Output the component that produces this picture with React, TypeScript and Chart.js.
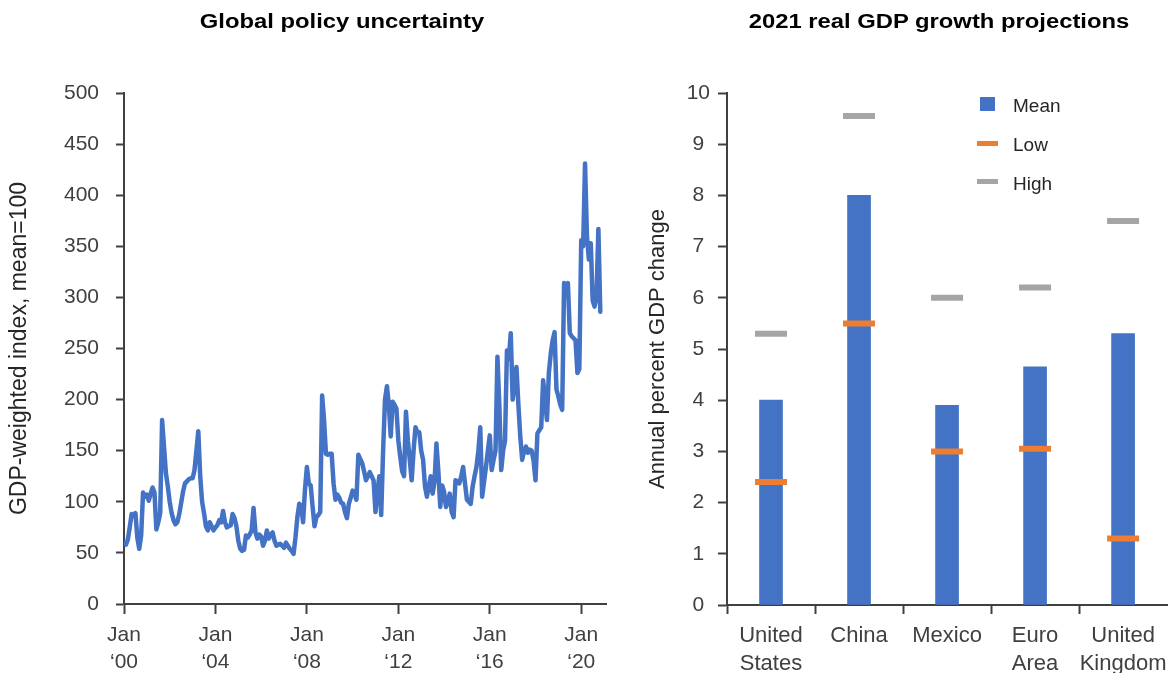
import React, { useEffect, useRef } from "react";
import { Chart, registerables } from "chart.js";

Chart.register(...registerables);

// ---------------- data ----------------
// Global economic policy uncertainty, monthly from Jan 2000 (index 0) to Nov 2020
const epuStartLabel = "Jan 2000";
const epuIndex = [
  // 2000
  60, 58, 63, 75, 88, 86, 89, 65, 54, 67, 109, 105,
  // 2001
  107, 101, 108, 114, 109, 73, 80, 89, 180, 154, 128, 115,
  // 2002
  100, 89, 82, 78, 80, 88, 99, 110, 118, 120, 122, 123,
  // 2003
  123, 131, 150, 169, 125, 100, 89, 76, 72, 80, 76, 72,
  // 2004
  75, 77, 82, 80, 91, 80, 75, 76, 77, 88, 84, 76,
  // 2005
  62, 54, 52, 53, 67, 65, 68, 72, 94, 70, 64, 68,
  // 2006
  66, 57, 62, 72, 64, 68, 70, 62, 57, 58, 59, 57,
  // 2007
  55, 60, 57, 54, 52, 49, 65, 85, 98, 96, 80, 112,
  // 2008
  134, 118, 116, 95, 76, 85, 87, 90, 204, 180, 147, 146,
  // 2009
  147, 147, 118, 102, 107, 104, 99, 98, 90, 84, 98, 104,
  // 2010
  111, 108, 102, 146, 142, 138, 130, 121, 125, 129, 125, 121,
  // 2011
  90, 110, 125, 87, 150, 200, 213, 195, 164, 198, 195, 191,
  // 2012
  160, 144, 130, 125, 188, 160, 141, 121, 150, 173, 168, 168,
  // 2013
  150, 141, 115, 105, 115, 125, 108, 120, 157, 130, 95, 116,
  // 2014
  110, 95, 100, 108, 90, 85, 121, 120, 118, 125, 134, 118,
  // 2015
  102, 100, 98, 115, 125, 134, 150, 173, 105, 120, 134, 150,
  // 2016
  165, 131, 141, 150, 242, 195, 131, 150, 160, 248, 240, 265,
  // 2017
  200, 215, 232, 195, 164, 141, 150, 154, 148, 151, 150, 140,
  // 2018
  121, 167, 170, 173, 219, 200, 180, 226, 245, 258, 266, 210,
  // 2019
  203, 195, 190, 314, 312, 314, 265, 262, 260, 258, 226, 230,
  // 2020 (Jan - Nov)
  356, 350, 431, 360, 337, 353, 297, 291, 300, 367, 286,
];
const epuTickMonths = [0, 48, 96, 144, 192, 240];
const epuTickLabels = [
  ["Jan", "\u201800"],
  ["Jan", "\u201804"],
  ["Jan", "\u201808"],
  ["Jan", "\u201812"],
  ["Jan", "\u201816"],
  ["Jan", "\u201820"],
];
const epuAxisMaxMonth = 253;

// 2021 real GDP growth projections
const countries = [
  ["United", "States"],
  "China",
  "Mexico",
  ["Euro", "Area"],
  ["United", "Kingdom"],
];
const meanGrowth = [4.0, 8.0, 3.9, 4.65, 5.3];
const lowGrowth = [2.4, 5.5, 3.0, 3.05, 1.3];
const highGrowth = [5.3, 9.55, 6.0, 6.2, 7.5];

// ---------------- styles ----------------
const FONT = "'Liberation Sans', Arial, Helvetica, sans-serif";
const AXIS = "#404040";
const TEXT = "#262626";
const BLUE = "#4472C4";
const ORANGE = "#ED7D31";
const GRAY = "#A5A5A5";

Chart.defaults.font.family = FONT;

export default function App() {
  const leftRef = useRef<HTMLCanvasElement | null>(null);
  const rightRef = useRef<HTMLCanvasElement | null>(null);

  useEffect(() => {
    if (!leftRef.current || !rightRef.current) return;

    const left = new Chart(leftRef.current, {
      type: "line",
      data: {
        datasets: [
          {
            label: "Global policy uncertainty",
            data: epuIndex.map((v, i) => ({ x: i, y: v })),
            borderColor: BLUE,
            backgroundColor: BLUE,
            borderWidth: 4.5,
            pointRadius: 0,
            tension: 0,
            borderJoinStyle: "round",
            borderCapStyle: "round",
          },
        ],
      },
      options: {
        animation: false,
        responsive: false,
        layout: { autoPadding: false, padding: { top: 93, right: 14, bottom: 0, left: 0 } },
        plugins: {
          legend: { display: false },
          tooltip: { enabled: false },
          title: { display: false },
        },
        scales: {
          x: {
            type: "linear",
            min: 0,
            max: epuAxisMaxMonth,
            afterBuildTicks: (s: any) => {
              s.ticks = epuTickMonths.map((v) => ({ value: v }));
            },
            afterFit: (s: any) => {
              s.height = 673 - 604;
            },
            grid: {
              drawOnChartArea: false,
              drawTicks: true,
              tickLength: 10,
              tickWidth: 2,
              tickColor: AXIS,
            },
            border: { display: true, color: AXIS, width: 2 },
            ticks: {
              color: AXIS,
              font: { size: 21, lineHeight: 1.27 },
              padding: 8,
              maxRotation: 0,
              autoSkip: false,
              callback: (v: any) => {
                const i = epuTickMonths.indexOf(Number(v));
                return i >= 0 ? epuTickLabels[i] : "";
              },
            },
          },
          y: {
            min: 0,
            max: 500,
            afterFit: (s: any) => {
              s.width = 124;
            },
            grid: {
              drawOnChartArea: false,
              drawTicks: true,
              tickLength: 8,
              tickWidth: 2,
              tickColor: AXIS,
            },
            border: { display: true, color: AXIS, width: 2 },
            ticks: {
              stepSize: 50,
              color: AXIS,
              font: { size: 21 },
              padding: 17,
            },
            title: {
              display: true,
              text: "GDP-weighted index, mean=100",
              color: TEXT,
              font: { size: 23 },
              padding: { top: 6, bottom: 0 },
            },
          },
        },
      },
    });

    const right = new Chart(rightRef.current, {
      type: "bar",
      data: {
        labels: countries as any,
        datasets: [
          {
            type: "line",
            label: "Low",
            data: lowGrowth,
            showLine: false,
            pointStyle: "line",
            pointRadius: 16,
            pointHoverRadius: 16,
            pointBorderWidth: 6,
            pointBorderColor: ORANGE,
            borderColor: ORANGE,
            backgroundColor: ORANGE,
            order: 1,
          } as any,
          {
            type: "line",
            label: "High",
            data: highGrowth,
            showLine: false,
            pointStyle: "line",
            pointRadius: 16,
            pointHoverRadius: 16,
            pointBorderWidth: 6,
            pointBorderColor: GRAY,
            borderColor: GRAY,
            backgroundColor: GRAY,
            order: 1,
          } as any,
          {
            type: "bar",
            label: "Mean",
            data: meanGrowth,
            backgroundColor: BLUE,
            barThickness: 23,
            order: 2,
          },
        ],
      },
      options: {
        animation: false,
        responsive: false,
        layout: { autoPadding: false, padding: { top: 93, right: 5, bottom: 0, left: 0 } },
        plugins: {
          legend: { display: false },
          tooltip: { enabled: false },
          title: { display: false },
        },
        scales: {
          x: {
            offset: true,
            afterFit: (s: any) => {
              s.height = 673 - 605;
            },
            grid: {
              offset: true,
              drawOnChartArea: false,
              drawTicks: true,
              tickLength: 9,
              tickWidth: 2,
              tickColor: (ctx: any) =>
                ctx.index === undefined ? "rgba(0,0,0,0)" : AXIS,
            },
            border: { display: true, color: AXIS, width: 2 },
            ticks: {
              color: AXIS,
              font: { size: 22, lineHeight: 1.28 },
              padding: 8,
              maxRotation: 0,
              autoSkip: false,
            },
          },
          y: {
            min: 0,
            max: 10,
            afterFit: (s: any) => {
              s.width = 87;
            },
            grid: {
              drawOnChartArea: false,
              drawTicks: true,
              tickLength: 9,
              tickWidth: 2,
              tickColor: AXIS,
            },
            border: { display: true, color: AXIS, width: 2 },
            ticks: {
              stepSize: 1,
              color: AXIS,
              font: { size: 21 },
              padding: 8,
              crossAlign: "center",
            },
            title: {
              display: true,
              text: "Annual percent GDP change",
              color: TEXT,
              font: { size: 22 },
              padding: { top: 5, bottom: 0 },
            },
          },
        },
      },
    });

    return () => {
      left.destroy();
      right.destroy();
    };
  }, []);

  const titleStyle: React.CSSProperties = {
    position: "absolute",
    top: 10.7,
    transform: "translateX(-50%) scaleX(1.19)",
    whiteSpace: "nowrap",
    font: `bold 20px ${FONT}`,
    lineHeight: "20px",
    color: "#000",
  };
  const legendText: React.CSSProperties = {
    position: "absolute",
    left: 1013,
    font: `19px ${FONT}`,
    lineHeight: "19px",
    color: TEXT,
    whiteSpace: "nowrap",
  };

  return (
    <div
      style={{
        position: "absolute",
        left: 0,
        top: 0,
        width: 1175,
        height: 673,
        background: "#fff",
        overflow: "hidden",
        fontFamily: FONT,
      }}
      data-start={epuStartLabel}
    >
      <canvas
        ref={leftRef}
        width={620}
        height={673}
        style={{ position: "absolute", left: 0, top: 0, width: 620, height: 673 }}
      />
      <canvas
        ref={rightRef}
        width={535}
        height={673}
        style={{ position: "absolute", left: 640, top: 0, width: 535, height: 673 }}
      />
      <div style={{ ...titleStyle, left: 342 }}>Global policy uncertainty</div>
      <div style={{ ...titleStyle, left: 939 }}>2021 real GDP growth projections</div>

      <div style={{ position: "absolute", left: 980, top: 97, width: 15, height: 14, background: BLUE }} />
      <div style={{ ...legendText, top: 95.7 }}>Mean</div>
      <div style={{ position: "absolute", left: 977, top: 141, width: 21, height: 5, background: ORANGE }} />
      <div style={{ ...legendText, top: 134.7 }}>Low</div>
      <div style={{ position: "absolute", left: 977, top: 179, width: 21, height: 5, background: GRAY }} />
      <div style={{ ...legendText, top: 173.7 }}>High</div>
    </div>
  );
}
